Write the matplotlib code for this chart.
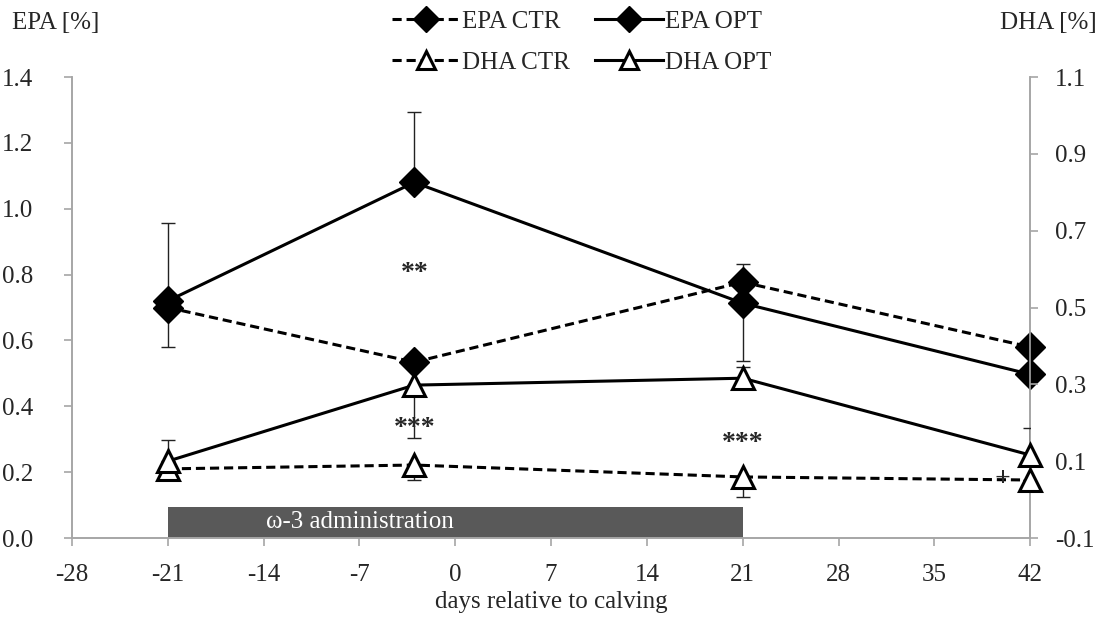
import matplotlib.pyplot as plt
from matplotlib.lines import Line2D

plt.rcParams['font.family'] = ['Liberation Serif', 'DejaVu Serif']

days = [-21, -3, 21, 42]

epa_ctr = [0.70, 0.534, 0.777, 0.58]
epa_opt = [0.72, 1.08, 0.713, 0.497]
dha_ctr = [0.08, 0.09, 0.059, 0.051]
dha_opt = [0.10, 0.298, 0.316, 0.116]

# one-sided error bars (upper, lower)
epa_opt_up = [0.236, 0.213, 0.0, 0.0]
epa_opt_lo = [0.0, 0.0, 0.176, 0.0]
epa_ctr_up = [0.0, 0.0, 0.055, 0.0]
epa_ctr_lo = [0.12, 0.0, 0.0, 0.0]
dha_opt_up = [0.055, 0.0, 0.03, 0.07]
dha_opt_lo = [0.0, 0.138, 0.0, 0.0]
dha_ctr_up = [0.0, 0.0, 0.0, 0.0]
dha_ctr_lo = [0.0, 0.039, 0.052, 0.0]

x_ticks = [-28, -21, -14, -7, 0, 7, 14, 21, 28, 35, 42]
epa_ticks = [0.0, 0.2, 0.4, 0.6, 0.8, 1.0, 1.2, 1.4]
dha_ticks = [-0.1, 0.1, 0.3, 0.5, 0.7, 0.9, 1.1]

admin_start, admin_end = -21, 21

# significance marks (day, EPA-axis height, label)
stars = [(-3, 0.804, '**'), (-3, 0.334, '***'), (21, 0.288, '***')]

grey = '#a6a6a6'
text_c = '#262626'
fs = 18

fig = plt.figure(figsize=(11.04, 6.23), dpi=100)
ax = fig.add_axes([0.0652, 0.1364, 0.868, 0.740])
ax2 = ax.twinx()

# administration period bar
ax.bar((admin_start + admin_end) / 2, 0.095, width=admin_end - admin_start,
       bottom=0, color='#595959', zorder=1)
ax.text(-7, 0.048, 'ω-3 administration', color='white', ha='center',
        va='center', fontsize=fs, zorder=2)

ekw = dict(ecolor='#222222', elinewidth=1.0, capsize=5, capthick=1.0)
ax.errorbar(days, epa_ctr, yerr=[epa_ctr_lo, epa_ctr_up], fmt='none', zorder=3, **ekw)
ax.errorbar(days, epa_opt, yerr=[epa_opt_lo, epa_opt_up], fmt='none', zorder=3, **ekw)
ax2.errorbar(days, dha_ctr, yerr=[dha_ctr_lo, dha_ctr_up], fmt='none', zorder=3, **ekw)
ax2.errorbar(days, dha_opt, yerr=[dha_opt_lo, dha_opt_up], fmt='none', zorder=3, **ekw)

dash = (0, (3, 1.6))
ax.plot(days, epa_ctr, color='black', ls=dash, lw=2.2,
        marker='D', ms=15, zorder=4, clip_on=False)
ax.plot(days, epa_opt, color='black', ls='-', lw=2.2,
        marker='D', ms=15, zorder=4, clip_on=False)
ax2.plot(days, dha_ctr, color='black', ls=dash, lw=2.2,
         marker='^', ms=16, mfc='white', mew=2.2, zorder=4, clip_on=False)
ax2.plot(days, dha_opt, color='black', ls='-', lw=2.2,
         marker='^', ms=16, mfc='white', mew=2.2, zorder=4, clip_on=False)

# stars go on the top axes so the DHA lines don't cover them
for x, y, s in stars:
    y2 = -0.1 + y * 1.2 / 1.4
    ax2.text(x, y2, s, ha='center', va='center', fontsize=20,
             fontweight='bold', color=text_c, zorder=5)
ax2.text(40, 0.052, '+', ha='center', va='center', fontsize=20,
         fontweight='bold', color=text_c, zorder=5)

ax.set_xlim(-28, 42)
ax.set_ylim(0, 1.4)
ax2.set_ylim(-0.1, 1.1)
ax.set_xticks(x_ticks)
ax.set_xticklabels([str(t) for t in x_ticks])
ax.set_yticks(epa_ticks)
ax.set_yticklabels([f'{t:.1f}' for t in epa_ticks])
ax2.set_yticks(dha_ticks)
ax2.set_yticklabels([f'{t:.1f}' for t in dha_ticks])

for a in (ax, ax2):
    a.spines['top'].set_visible(False)
    for s in ('left', 'right', 'bottom'):
        a.spines[s].set_color(grey)
        a.spines[s].set_linewidth(1.2)
    a.tick_params(colors=grey, labelcolor=text_c, labelsize=fs,
                  length=6, width=1.2, direction='out')
ax.tick_params(axis='x', pad=13)
ax.tick_params(axis='y', pad=22)
ax2.tick_params(axis='y', pad=12)

ax.set_xlabel('days relative to calving', fontsize=fs, color=text_c, labelpad=3)
fig.text(0.011, 0.963, 'EPA [%]', fontsize=fs, color=text_c, va='center')
fig.text(0.993, 0.963, 'DHA [%]', fontsize=fs, color=text_c, va='center', ha='right')

handles = [
    Line2D([], [], color='black', ls=dash, lw=2.2, marker='D', ms=13),
    Line2D([], [], color='black', ls=dash, lw=2.2, marker='^', ms=13,
           mfc='white', mew=2.2),
    Line2D([], [], color='black', ls='-', lw=2.2, marker='D', ms=13),
    Line2D([], [], color='black', ls='-', lw=2.2, marker='^', ms=13,
           mfc='white', mew=2.2),
]
labels = ['EPA CTR', 'DHA CTR', 'EPA OPT', 'DHA OPT']
fig.legend(handles, labels, ncol=2, loc='upper center',
           bbox_to_anchor=(0.527, 1.02), frameon=False, fontsize=fs,
           handlelength=2.7, handletextpad=0.1, columnspacing=1.0,
           labelspacing=0.75, labelcolor=text_c)

fig.savefig('out.png', dpi=100)
